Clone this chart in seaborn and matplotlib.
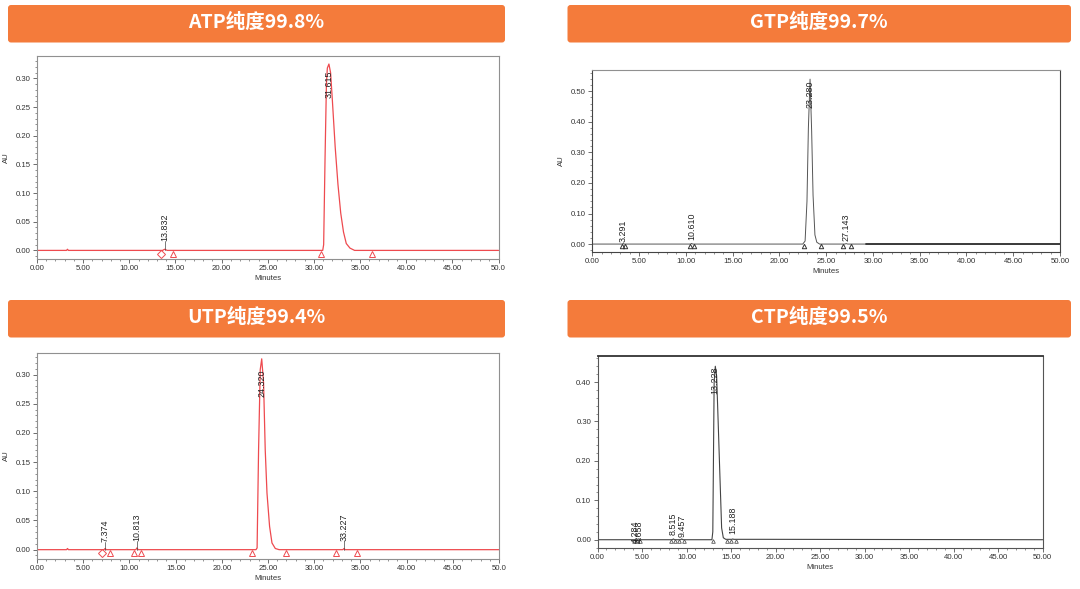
import matplotlib
matplotlib.use("Agg")
import matplotlib.pyplot as plt
from matplotlib.patches import FancyBboxPatch
from matplotlib.transforms import IdentityTransform
from matplotlib.ticker import MultipleLocator
import seaborn as sns

# ---------------- data ----------------
titles = ["ATP纯度99.8%", "GTP纯度99.7%", "UTP纯度99.4%", "CTP纯度99.5%"]

x_ticks = [0, 5, 10, 15, 20, 25, 30, 35, 40, 45, 50]
x_labels_left = ["0.00", "5.00", "10.00", "15.00", "20.00", "25.00", "30.00",
                 "35.00", "40.00", "45.00", "50.0"]
x_labels_right = ["0.00", "5.00", "10.00", "15.00", "20.00", "25.00", "30.00",
                  "35.00", "40.00", "45.00", "50.00"]

# ATP trace
atp_t = [0, 3.2, 3.3, 3.4, 13.6, 13.83, 14.1, 30.95, 31.05, 31.2, 31.35, 31.45,
         31.62, 31.8, 32.0, 32.3, 32.6, 32.9, 33.2, 33.5, 33.9, 34.4, 50]
atp_au = [0, 0, 0.002, 0, 0, 0.002, 0, 0, 0.01, 0.16, 0.29, 0.318,
          0.325, 0.31, 0.26, 0.18, 0.115, 0.065, 0.032, 0.012, 0.004, 0, 0]
atp_peaks = ["13.832"]
atp_peak_bottom = [0.0157]
atp_main = "31.615"
atp_main_top = 0.313
atp_diamonds = [13.45]
atp_triangles = [14.75, 30.75, 36.25]
atp_yticks = [0.00, 0.05, 0.10, 0.15, 0.20, 0.25, 0.30]

# GTP trace
gtp_t = [0, 3.2, 3.29, 3.4, 10.5, 10.61, 10.75, 22.5, 22.75, 22.95, 23.1, 23.28,
         23.45, 23.6, 23.8, 24.0, 24.3, 27.0, 27.14, 27.3, 50]
gtp_au = [0, 0, 0.002, 0, 0, 0.002, 0, 0, 0.01, 0.14, 0.38, 0.54,
          0.37, 0.16, 0.03, 0.006, 0, 0, 0.0015, 0, 0]
gtp_peaks = ["3.291", "10.610", "27.143"]
gtp_peak_bottom = [0.0076, 0.013, 0.011]
gtp_main = "23.280"
gtp_main_top = 0.537
gtp_triangles = [3.15, 3.45, 10.45, 10.85, 22.6, 24.45, 26.85, 27.7]
gtp_thick_base = [29.3, 50]
gtp_yticks = [0.00, 0.10, 0.20, 0.30, 0.40, 0.50]

# UTP trace
utp_t = [0, 3.2, 3.3, 3.4, 7.25, 7.37, 7.5, 10.7, 10.81, 10.95, 23.7, 23.82,
         23.98, 24.16, 24.32, 24.52, 24.70, 24.89, 25.17, 25.43, 25.79, 26.2,
         33.1, 33.23, 33.35, 50]
utp_au = [0, 0, 0.002, 0, 0, 0.002, 0, 0, 0.003, 0, 0, 0.003,
          0.171, 0.3085, 0.327, 0.286, 0.171, 0.097, 0.040, 0.0115, 0.002, 0,
          0, 0.002, 0, 0]
utp_peaks = ["7.374", "10.813", "33.227"]
utp_peak_bottom = [0.013, 0.014, 0.014]
utp_main = "24.320"
utp_main_top = 0.309
utp_diamonds = [7.05]
utp_triangles = [7.85, 10.45, 11.3, 23.3, 27.0, 32.4, 34.6]
utp_yticks = [0.00, 0.05, 0.10, 0.15, 0.20, 0.25, 0.30]

# CTP trace
ctp_t = [0, 4.2, 4.28, 4.45, 4.66, 4.8, 8.4, 8.52, 8.65, 9.35, 9.46, 9.6,
         12.85, 12.95, 13.1, 13.23, 13.38, 13.55, 13.7, 13.94, 14.13, 14.4,
         15.1, 15.19, 15.3, 18.5, 50]
ctp_au = [0, 0, 0.002, 0.001, 0.002, 0, 0, 0.002, 0, 0, 0.002, 0,
          0, 0.02, 0.40, 0.44, 0.415, 0.30, 0.195, 0.03, 0.005, 0.001,
          0.001, 0.002, 0.001, 0.001, 0]
ctp_peaks = ["4.284", "4.658", "8.515", "9.457", "15.188"]
ctp_peak_bottom = [-0.008, -0.008, 0.013, 0.008, 0.014]
ctp_main = "13.228"
ctp_main_top = 0.44
ctp_triangles = [4.1, 4.45, 4.8, 8.3, 8.7, 9.2, 9.7, 12.95, 14.6, 15.0, 15.5]
ctp_yticks = [0.00, 0.10, 0.20, 0.30, 0.40]

# ---------------- style ----------------
sns.set_style("ticks")
plt.rcParams["font.family"] = ["Liberation Sans", "DejaVu Sans"]

ORANGE = "#F47B3B"
RED = "#EE4A4F"
W, H = 1080, 589
fig = plt.figure(figsize=(W / 100, H / 100), dpi=100)
fig.patch.set_facecolor("white")


def ax_at(x0, y0, x1, y1):
    return fig.add_axes([x0 / W, 1 - y1 / H, (x1 - x0) / W, (y1 - y0) / H])


def header(x0, y0, x1, y1, text):
    p = FancyBboxPatch((x0, H - y1), x1 - x0, y1 - y0,
                       boxstyle="round,pad=0,rounding_size=3",
                       transform=IdentityTransform(), fc=ORANGE, ec="none")
    fig.add_artist(p)
    fig.text((x0 + x1) / 2 / W, 1 - (y0 + y1) / 2 / H + 0.002, text,
             ha="center", va="center", color="white", fontsize=14,
             fontweight="black", family=["Noto Sans CJK SC", "DejaVu Sans"])


def setup(ax, ylim, yticks, yminor, xlabels, ylabel=True, spine="#909090"):
    ax.set_xlim(0, 50)
    ax.set_ylim(*ylim)
    ax.set_xticks(x_ticks)
    ax.set_xticklabels(xlabels)
    ax.set_yticks(yticks)
    ax.set_yticklabels(["%.2f" % v for v in yticks])
    ax.xaxis.set_minor_locator(MultipleLocator(1))
    ax.yaxis.set_minor_locator(MultipleLocator(yminor))
    ax.tick_params(which="major", direction="out", length=3, width=0.6,
                   labelsize=5.6, pad=1.5, colors="#555", labelcolor="#333")
    ax.tick_params(which="minor", direction="out", length=1.6, width=0.5,
                   colors="#666")
    for s in ax.spines.values():
        s.set_visible(True)
        s.set_color(spine)
        s.set_linewidth(0.8)
    ax.set_xlabel("Minutes", fontsize=5.6, labelpad=2, color="#333")
    if ylabel:
        ax.set_ylabel("AU", fontsize=5.6, color="#333")
        ax.yaxis.set_label_coords(-0.058, 0.5)
    else:
        ax.set_ylabel("")


def trace(ax, t, au, color, lw=0.8):
    sns.lineplot(x=t, y=au, ax=ax, color=color, linewidth=lw,
                 estimator=None, sort=False)


def labels(ax, peaks, bottoms, main, main_top, tick=True, color="#222"):
    for lab, yb in zip(peaks, bottoms):
        x = float(lab)
        ax.text(x, yb, lab, rotation=90, ha="center", va="bottom",
                fontsize=6.4, color=color)
        if tick and yb > 0:
            ax.plot([x, x], [0.0, yb], color="#444", lw=0.5)
    ax.text(float(main), main_top, main, rotation=90, ha="center", va="top",
            fontsize=6.4, color=color)


# ---------------- ATP ----------------
header(8, 5, 505, 42.5, titles[0])
ax1 = ax_at(37, 56, 498.6, 259)
trace(ax1, atp_t, atp_au, RED, lw=0.9)
ax1.plot(atp_diamonds, [-0.006] * len(atp_diamonds), ls="none", marker="D",
         ms=3.6, mfc="none", mec=RED, mew=0.7)
ax1.plot(atp_triangles, [-0.006] * len(atp_triangles), ls="none", marker="^",
         ms=5, mfc="none", mec=RED, mew=0.7)
labels(ax1, atp_peaks, atp_peak_bottom, atp_main, atp_main_top)
setup(ax1, (-0.015, 0.339), atp_yticks, 0.01, x_labels_left)

# ---------------- GTP ----------------
header(567.5, 5, 1071, 42.5, titles[1])
ax2 = ax_at(592.3, 70, 1060, 251.7)
trace(ax2, gtp_t, gtp_au, "#555555", lw=0.7)
ax2.plot(gtp_thick_base, [0, 0], color="#333333", lw=1.3)
ax2.plot(gtp_triangles, [-0.006] * len(gtp_triangles), ls="none", marker="^",
         ms=3.2, mfc="none", mec="#333", mew=0.7)
labels(ax2, gtp_peaks, gtp_peak_bottom, gtp_main, gtp_main_top, tick=False)
setup(ax2, (-0.025, 0.57), gtp_yticks, 0.02, x_labels_right)
ax2.spines["left"].set_color("#444")
ax2.spines["bottom"].set_color("#444")
ax2.spines["right"].set_color("#444")

# ---------------- UTP ----------------
header(8, 300, 505, 337.5, titles[2])
ax3 = ax_at(37, 353, 499, 559)
trace(ax3, utp_t, utp_au, RED, lw=0.9)
ax3.plot(utp_diamonds, [-0.006] * len(utp_diamonds), ls="none", marker="D",
         ms=3.6, mfc="none", mec=RED, mew=0.7)
ax3.plot(utp_triangles, [-0.006] * len(utp_triangles), ls="none", marker="^",
         ms=5, mfc="none", mec=RED, mew=0.7)
labels(ax3, utp_peaks, utp_peak_bottom, utp_main, utp_main_top)
setup(ax3, (-0.016, 0.337), utp_yticks, 0.01, x_labels_left)

# ---------------- CTP ----------------
header(567.5, 300, 1071, 337.5, titles[3])
ax4 = ax_at(597.5, 356, 1042.7, 548)
trace(ax4, ctp_t, ctp_au, "#444444", lw=0.8)
ax4.plot(ctp_triangles, [-0.004] * len(ctp_triangles), ls="none", marker="^",
         ms=2.6, mfc="none", mec="#555", mew=0.6)
labels(ax4, ctp_peaks, ctp_peak_bottom, ctp_main, ctp_main_top, tick=False)
setup(ax4, (-0.021, 0.466), ctp_yticks, 0.02, x_labels_right, ylabel=False,
      spine="#555")
ax4.spines["top"].set_color("#333")
ax4.spines["top"].set_linewidth(1.3)

fig.savefig("out.png", dpi=100)
